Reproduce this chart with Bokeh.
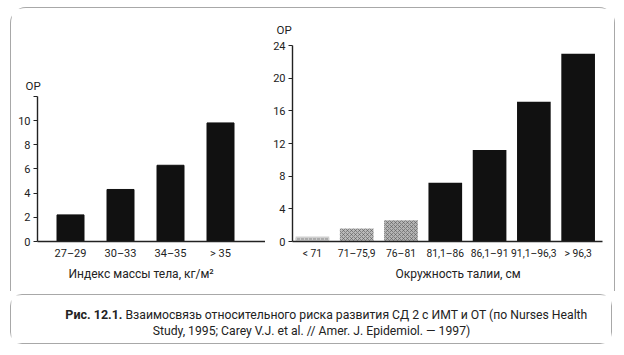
from bokeh.plotting import figure
from bokeh.layouts import row, column
from bokeh.models import Range1d, FixedTicker, Title
from bokeh.embed import file_html
from bokeh.resources import INLINE
from bokeh.core.properties import value

FONT = "Roboto"

# ---- data ----
bmi_categories = ["27–29", "30–33", "34–35", "> 35"]
bmi_rr = [2.2, 4.3, 6.3, 9.8]

waist_categories = ["< 71", "71–75,9", "76–81", "81,1–86", "86,1–91", "91,1–96,3", "> 96,3"]
waist_rr = [0.6, 1.6, 2.6, 7.2, 11.2, 17.1, 23.0]

left_yticks = [0, 2, 4, 6, 8, 10, 12]
right_yticks = [0, 4, 8, 12, 16, 20, 24]

bmi_title = "Индекс массы тела, кг/м²"
waist_title = "Окружность талии, см"
y_title = "ОР"
caption_bold = "Рис. 12.1."
caption_line1 = "Взаимосвязь относительного риска развития СД 2 с ИМТ и ОТ (по Nurses Health"
caption_line2 = "Study, 1995; Carey V.J. et al. // Amer. J. Epidemiol. — 1997)"

waist_fill = ["#cfcfcf", "#b9b9b9", "#b3b3b3", "#111111", "#111111", "#111111", "#111111"]
waist_hatch = ["horizontal_dash", "diagonal_cross", "diagonal_cross", "blank", "blank", "blank", "blank"]

TEXT = "#222222"
FRAME = "1px solid #a8a8a8"


def style(p, ticks, xcats, xsize):
    p.xgrid.visible = False
    p.ygrid.visible = False
    p.outline_line_color = None
    p.background_fill_color = "white"
    p.border_fill_color = "white"
    xa = p.xaxis[0]
    xa.ticker = FixedTicker(ticks=list(range(1, len(xcats) + 1)))
    xa.major_label_overrides = {i + 1: c for i, c in enumerate(xcats)}
    xa.major_tick_out = 0
    xa.major_tick_in = 0
    xa.minor_tick_out = 0
    xa.minor_tick_in = 0
    xa.axis_line_color = TEXT
    xa.axis_line_width = 1.4
    xa.major_label_text_font = FONT
    xa.major_label_text_font_size = xsize
    xa.major_label_text_color = TEXT
    xa.major_label_standoff = 5
    ya = p.yaxis[0]
    ya.ticker = FixedTicker(ticks=ticks)
    ya.major_tick_out = 4
    ya.major_tick_in = 0
    ya.minor_tick_out = 0
    ya.minor_tick_in = 0
    ya.axis_line_color = TEXT
    ya.axis_line_width = 1.4
    ya.major_tick_line_color = TEXT
    ya.major_label_text_font = FONT
    ya.major_label_text_font_size = "11px"
    ya.major_label_text_color = TEXT
    ya.major_label_standoff = 3


def y_label(p, offset, standoff):
    p.title.text = y_title
    p.title.align = "left"
    p.title.offset = offset
    p.title.text_font = FONT
    p.title.text_font_style = "normal"
    p.title.text_font_size = "11.5px"
    p.title.text_color = TEXT
    p.title.standoff = standoff


# ---- left chart ----
left = figure(width=255, height=284, x_range=Range1d(0.34, 4.92), y_range=Range1d(0, 16.2),
              min_border_left=26, min_border_right=0, min_border_top=37, min_border_bottom=51,
              output_backend="svg", toolbar_location=None,
              styles={"border-top": FRAME, "border-left": FRAME,
                      "border-top-left-radius": "16px"})
style(left, left_yticks, bmi_categories, "11px")
left.yaxis[0].bounds = (0, 12)
left.yaxis[0].major_label_overrides = {12: ""}
left.vbar(x=list(range(1, len(bmi_rr) + 1)), top=bmi_rr, width=0.54,
          fill_color="#111111", line_color="#111111")
y_label(left, -12, -94)
left.add_layout(Title(text=bmi_title, align="left", offset=31, text_font=FONT, standoff=4,
                      text_font_style="normal", text_font_size="12px", text_color=TEXT), "below")

# ---- right chart ----
right = figure(width=350, height=284, x_range=Range1d(0.55, 7.55), y_range=Range1d(0, 24),
               min_border_left=27, min_border_right=13, min_border_top=37, min_border_bottom=51,
               output_backend="svg", toolbar_location=None,
               styles={"border-top": FRAME, "border-right": FRAME,
                       "border-top-right-radius": "16px"})
style(right, right_yticks, waist_categories, "10.3px")
right.vbar(x=list(range(1, len(waist_rr) + 1)), top=waist_rr, width=0.76,
           fill_color=waist_fill, line_color=None,
           hatch_pattern=waist_hatch, hatch_color="#555555", hatch_scale=4,
           hatch_weight=0.8, hatch_alpha=0.7)
y_label(right, -16, 17)
right.add_layout(Title(text=waist_title, align="left", offset=103, text_font=FONT, standoff=4,
                       text_font_style="normal", text_font_size="12px", text_color=TEXT), "below")

# ---- caption ----
cap = figure(width=602, height=50, x_range=Range1d(0, 602), y_range=Range1d(50, 0),
             min_border=0, output_backend="svg", toolbar_location=None,
             styles={"border": FRAME, "border-radius": "12px"})
cap.axis.visible = False
cap.xgrid.visible = False
cap.ygrid.visible = False
cap.outline_line_color = None
cap.text(x=[111], y=[19], text=[caption_bold], text_font=value(FONT), text_font_style="bold",
         text_font_size="12.5px", text_align="right", text_baseline="middle", text_color=TEXT)
cap.text(x=[114], y=[19], text=[caption_line1], text_font=value(FONT),
         text_font_size="12.2px", text_align="left", text_baseline="middle", text_color=TEXT)
cap.text(x=[300], y=[35], text=[caption_line2], text_font=value(FONT),
         text_font_size="12.2px", text_align="center", text_baseline="middle", text_color=TEXT)

top_row = row(left, right, margin=(7, 0, 0, 10))
cap.margin = (3, 0, 0, 10)
layout = column(top_row, cap)
open("out.html", "w").write(file_html(layout, INLINE))
